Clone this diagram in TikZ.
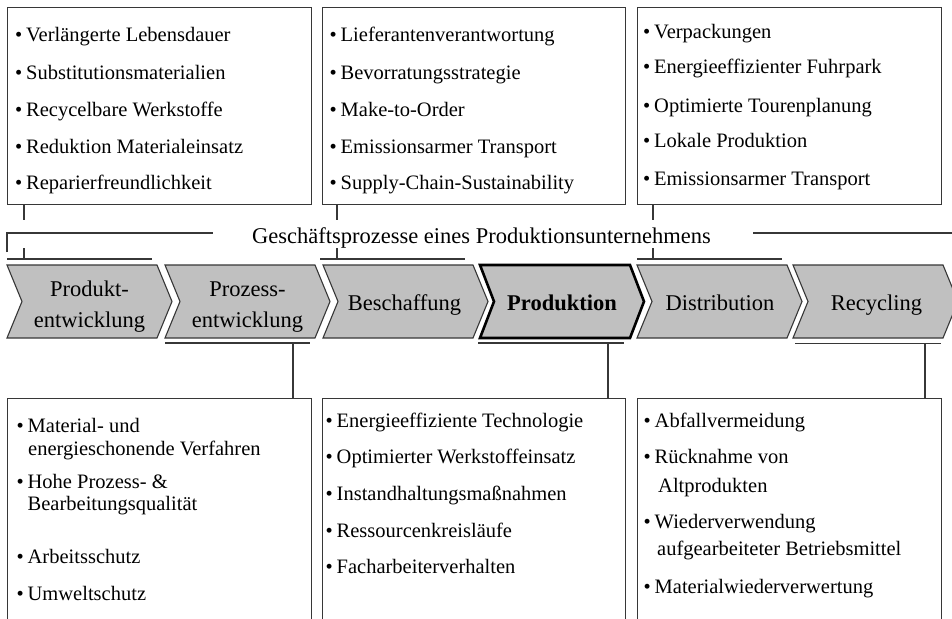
\documentclass[tikz,border=0pt]{standalone}
\usepackage{fontspec}
\setmainfont{Liberation Serif}
\definecolor{chevgray}{RGB}{192,192,192}
\definecolor{linegray}{RGB}{55,55,55}
\newcommand\bulx[2]{\llap{\textbullet\hspace{#1pt}}#2}
\begin{document}
\begin{tikzpicture}[x=1pt,y=-1pt,
  conn/.style={draw=linegray, line width=1.1pt},
  infobox/.style={draw=linegray, line width=1.1pt, rectangle, inner sep=0pt, anchor=north west},
  chevron/.style={draw=linegray, line width=1.1pt, fill=chevgray, line join=miter},
  chevronbold/.style={draw=black, line width=2.6pt, fill=chevgray, line join=miter},
  txt/.style={inner sep=0pt, anchor=base west, font=\fontsize{20.5}{24}\selectfont},
  clab/.style={inner sep=0pt, anchor=base, font=\fontsize{22.5}{27}\selectfont},
  ttl/.style={inner sep=0pt, anchor=base, font=\fontsize{22.5}{27}\selectfont}]
\clip (0,0) rectangle (952,618);
\useasboundingbox (0,0) rectangle (952,618);
\fill[white] (0,0) rectangle (952,618);

% ---------- top boxes ----------
\node[infobox, minimum width=304pt, minimum height=197pt] (T1) at (7,7) {};
\node[infobox, minimum width=303pt, minimum height=197pt] (T2) at (322,7) {};
\node[infobox, minimum width=304pt, minimum height=197pt] (T3) at (637,7) {};

% ---------- bottom boxes (open below) ----------
\node[infobox, minimum width=304pt, minimum height=260pt] (B1) at (7,398) {};
\node[infobox, minimum width=303pt, minimum height=260pt] (B2) at (322,398) {};
\node[infobox, minimum width=304pt, minimum height=260pt] (B3) at (637,398) {};

% ---------- chevrons ----------
\foreach \i/\xo in {1/7,2/165,3/323,5/637,6/793} {
  \path[chevron] (\xo,265) -- (\xo+150,265) -- (\xo+165,301.5) -- (\xo+150,338) -- (\xo,338) -- (\xo+15,301.5) -- cycle;
}
\path[chevronbold] (480,265) -- (630,265) -- (644,301.5) -- (630,338) -- (480,338) -- (494,301.5) -- cycle;

% chevron labels
\node[clab] (P1a) at (89.5,296.5) {Produkt-};
\node[clab] (P1b) at (89.5,327) {entwicklung};
\node[clab] (P2a) at (247.5,296.5) {Prozess-};
\node[clab] (P2b) at (247.5,327) {entwicklung};
\node[clab] (P3) at (404.5,310.5) {Beschaffung};
\node[clab, font=\fontsize{22.5}{27}\selectfont\bfseries] (P4) at (562,310.5) {Produktion};
\node[clab] (P5) at (720,310.5) {Distribution};
\node[clab] (P6) at (876.5,310.5) {Recycling};

% ---------- title bracket ----------
\node[ttl] (title) at (481.5,243.5) {Geschäftsprozesse eines Produktionsunternehmens};
\coordinate (gl0) at (7,252);
\coordinate (gl1) at (7,233);
\coordinate (gl2) at (213,233);
\coordinate (gr1) at (753,233);
\coordinate (gr2) at (952,233);
\draw[conn] (gl0) -- (gl1) -- (gl2);
\draw[conn] (gr1) -- (gr2);

% ---------- top connectors ----------
\coordinate (k1a) at (24,220);  \coordinate (k1b) at (24,248);  \coordinate (k1c) at (24,259);
\coordinate (h1a) at (7,259);   \coordinate (h1b) at (152,259);
\draw[conn] (T1.south -| k1a) -- (k1a);
\draw[conn] (k1b) -- (k1c);
\draw[conn] (h1a) -- (h1b);

\coordinate (k2a) at (337,220); \coordinate (k2b) at (337,248); \coordinate (k2c) at (337,259);
\coordinate (h2a) at (320,259); \coordinate (h2b) at (465,259);
\draw[conn] (T2.south -| k2a) -- (k2a);
\draw[conn] (k2b) -- (k2c);
\draw[conn] (h2a) -- (h2b);

\coordinate (k3a) at (653,220); \coordinate (k3b) at (653,248); \coordinate (k3c) at (653,259);
\coordinate (h3a) at (637,259); \coordinate (h3b) at (782,259);
\draw[conn] (T3.south -| k3a) -- (k3a);
\draw[conn] (k3b) -- (k3c);
\draw[conn] (h3a) -- (h3b);

% ---------- bottom connectors ----------
\coordinate (m1) at (293,343); \coordinate (n1a) at (165,343); \coordinate (n1b) at (310,343);
\draw[conn] (n1a) -- (n1b);
\draw[conn] (m1) -- (B1.north -| m1);

\coordinate (m2) at (608,343); \coordinate (n2a) at (478,343); \coordinate (n2b) at (624,343);
\draw[conn] (n2a) -- (n2b);
\draw[conn] (m2) -- (B2.north -| m2);

\coordinate (m3) at (925,343.5); \coordinate (n3a) at (795,343.5); \coordinate (n3b) at (941,343.5);
\draw[conn] (n3a) -- (n3b);
\draw[conn] (m3) -- (B3.north -| m3);

% ---------- top box texts ----------
\node[txt] (t1a) at (26,41.5) {\bulx{4}{Verlängerte Lebensdauer}};
\node[txt] (t1b) at (26,79)   {\bulx{4}{Substitutionsmaterialien}};
\node[txt] (t1c) at (26,116)  {\bulx{4}{Recycelbare Werkstoffe}};
\node[txt] (t1d) at (26,153)  {\bulx{4}{Reduktion Materialeinsatz}};
\node[txt] (t1e) at (26,189)  {\bulx{4}{Reparierfreundlichkeit}};

\node[txt] (t2a) at (340.5,41.5) {\bulx{4}{Lieferantenverantwortung}};
\node[txt] (t2b) at (340.5,79)   {\bulx{4}{Bevorratungsstrategie}};
\node[txt] (t2c) at (340.5,116)  {\bulx{4}{Make-to-Order}};
\node[txt] (t2d) at (340.5,153)  {\bulx{4}{Emissionsarmer Transport}};
\node[txt] (t2e) at (340.5,189)  {\bulx{4}{Supply-Chain-Sustainability}};

\node[txt] (t3a) at (654,39)  {\bulx{4}{Verpackungen}};
\node[txt] (t3b) at (654,74)  {\bulx{4}{Energieeffizienter Fuhrpark}};
\node[txt] (t3c) at (654,112) {\bulx{4}{Optimierte Tourenplanung}};
\node[txt] (t3d) at (654,147) {\bulx{4}{Lokale Produktion}};
\node[txt] (t3e) at (654,185) {\bulx{4}{Emissionsarmer Transport}};

% ---------- bottom box texts ----------
\node[txt] (b1a) at (27.5,432) {\bulx{4}{Material- und}};
\node[txt] (b1b) at (28,455)   {energieschonende Verfahren};
\node[txt] (b1c) at (27.5,488) {\bulx{4}{Hohe Prozess- \&}};
\node[txt] (b1d) at (27.5,510) {Bearbeitungsqualität};
\node[txt] (b1e) at (27.5,563) {\bulx{4}{Arbeitsschutz}};
\node[txt] (b1f) at (27.5,600) {\bulx{4}{Umweltschutz}};

\node[txt] (b2a) at (336.5,427) {\bulx{4}{Energieeffiziente Technologie}};
\node[txt] (b2b) at (336.5,463) {\bulx{4}{Optimierter Werkstoffeinsatz}};
\node[txt] (b2c) at (336.5,500) {\bulx{4}{Instandhaltungsmaßnahmen}};
\node[txt] (b2d) at (336.5,537) {\bulx{4}{Ressourcenkreisläufe}};
\node[txt] (b2e) at (336.5,573) {\bulx{4}{Facharbeiterverhalten}};

\node[txt] (b3a) at (654.5,427) {\bulx{4}{Abfallvermeidung}};
\node[txt] (b3b) at (654.5,463) {\bulx{4}{Rücknahme von}};
\node[txt] (b3c) at (658,492)   {Altprodukten};
\node[txt] (b3d) at (654.5,528) {\bulx{4}{Wiederverwendung}};
\node[txt] (b3e) at (657,555)   {aufgearbeiteter Betriebsmittel};
\node[txt] (b3f) at (654.5,593) {\bulx{4}{Materialwiederverwertung}};
\end{tikzpicture}
\end{document}
